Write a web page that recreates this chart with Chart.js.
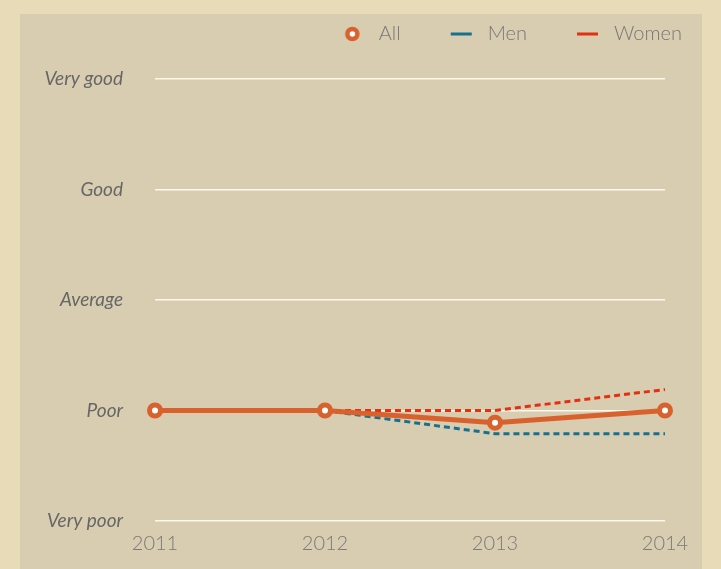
<!DOCTYPE html>
<html>
<head>
<meta charset="utf-8">
<script src="https://cdn.jsdelivr.net/npm/chart.js@4.4.0/dist/chart.umd.min.js"></script>
<style>
  html, body { margin: 0; padding: 0; background: #e8dcb8; }
  #panel { position: absolute; left: 20px; top: 14px; width: 682px; height: 555px; background: #d8cdb0; }
</style>
</head>
<body>
<div id="panel"><canvas id="myChart"></canvas></div>
<script>
let years = ['2011', '2012', '2013', '2014'];
let ratingLabels = ['Very poor', 'Poor', 'Average', 'Good', 'Very good'];
let allValues = [2, 2, 1.89, 2];
let menValues = [2, 2, 1.79, 1.79];
let womenValues = [2, 2, 2, 2.19];

let allColor = '#d8612d';
let menColor = '#17708f';
let womenColor = '#e5300f';

// small canvases used as legend icons, icon sits on the right of a wide box
function legendIcon(kind, color) {
  let c = document.createElement('canvas');
  c.width = 67;
  c.height = 20;
  let g = c.getContext('2d');
  let cx = 67 - 16.5, cy = 10;
  if (kind == 'circle') {
    g.beginPath();
    g.arc(cx, cy, 5, 0, Math.PI * 2);
    g.fillStyle = '#fff';
    g.fill();
    g.lineWidth = 4.5;
    g.strokeStyle = color;
    g.stroke();
  } else {
    g.fillStyle = color;
    g.fillRect(cx - 10.5, cy - 1.5, 21, 3);
  }
  return c;
}
let icons = [legendIcon('circle', allColor), legendIcon('line', menColor), legendIcon('line', womenColor)];

const data = {
  labels: years,
  datasets: [{
    label: 'All',
    data: allValues,
    borderColor: allColor,
    backgroundColor: '#fff',
    borderWidth: 5,
    pointRadius: 5.5,
    pointBorderWidth: 5,
    pointBackgroundColor: '#fff',
    pointBorderColor: allColor,
    clip: false
  }, {
    label: 'Men',
    data: menValues,
    borderColor: menColor,
    borderWidth: 3,
    borderDash: [6, 4],
    pointRadius: 0,
    clip: false
  }, {
    label: 'Women',
    data: womenValues,
    borderColor: womenColor,
    borderWidth: 3,
    borderDash: [6, 4],
    pointRadius: 0,
    clip: false
  }]
};

// make the legend box taller so the plot starts lower
const tallLegend = {
  id: 'tallLegend',
  beforeInit(chart) {
    const fit = chart.legend.fit;
    chart.legend.fit = function() {
      fit.call(chart.legend);
      this.height = 65;
    };
  }
};

const config = {
  type: 'line',
  data: data,
  plugins: [tallLegend],
  options: {
    responsive: true,
    maintainAspectRatio: false,
    animation: false,
    layout: { padding: { left: 0, right: 10, top: 0, bottom: 0 } },
    plugins: {
      tooltip: { enabled: false },
      legend: {
        position: 'top',
        align: 'end',
        labels: {
          usePointStyle: true,
          pointStyleWidth: 67,
          padding: 10,
          color: '#777',
          font: { family: 'Lato', size: 20, weight: 300 },
          generateLabels: function(chart) {
            return chart.data.datasets.map((ds, i) => ({
              text: ds.label,
              pointStyle: icons[i],
              fontColor: '#777',
              lineWidth: 0,
              strokeStyle: 'transparent',
              fillStyle: 'transparent',
              datasetIndex: i,
              hidden: false
            }));
          }
        }
      }
    },
    scales: {
      x: {
        grid: { display: false, drawTicks: false },
        border: { display: false },
        ticks: {
          padding: 11,
          color: '#7a7a7a',
          font: { family: 'Lato', size: 20, weight: 300 },
          maxRotation: 0
        },
        afterFit: function(scale) {
          scale.height = 48;
          scale.paddingRight = 37;
        }
      },
      y: {
        min: 1,
        max: 5,
        grid: { color: '#fbf8ee', lineWidth: 1.5, drawTicks: false },
        border: { display: false },
        ticks: {
          stepSize: 1,
          padding: 32,
          color: '#666',
          font: { family: 'Lato', size: 19, style: 'italic' },
          callback: function(value) { return ratingLabels[value - 1]; }
        },
        afterFit: function(scale) {
          scale.width = 135;
        }
      }
    }
  }
};

var ctx = document.getElementById('myChart');
var mychart = new Chart(ctx, config);
</script>
</body>
</html>
